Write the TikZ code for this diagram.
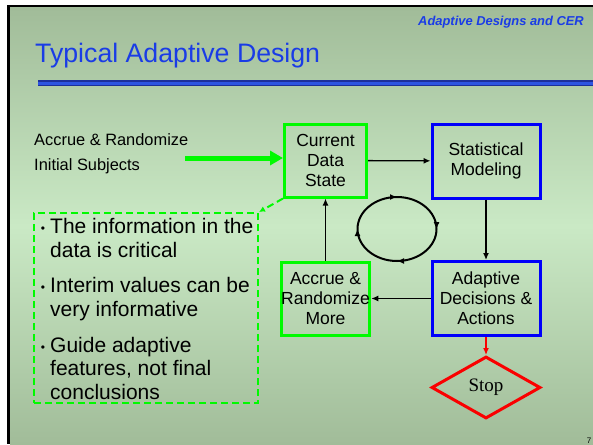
\documentclass[tikz,border=0pt]{standalone}
\usepackage{fontspec}
\setmainfont{Liberation Sans}
\newfontfamily\stopfont{Liberation Serif}
\usetikzlibrary{arrows.meta,shapes.geometric,decorations.markings}

\definecolor{slideedge}{RGB}{161,188,153}
\definecolor{slidemid}{RGB}{202,233,197}
\definecolor{titleblue}{RGB}{26,60,230}
\definecolor{rulemid}{RGB}{45,85,225}
\definecolor{ruleedge}{RGB}{28,48,155}
\definecolor{boxgreen}{RGB}{0,250,0}
\definecolor{boxblue}{RGB}{0,0,250}
\definecolor{stopred}{RGB}{250,0,0}

\tikzset{
  greenbox/.style={draw=boxgreen, line width=3pt, minimum width=82pt, minimum height=73pt,
    inner sep=0pt, align=center, font=\fontsize{17.5}{20}\selectfont},
  bluebox/.style={draw=boxblue, line width=3pt, minimum width=108pt, minimum height=74pt,
    inner sep=0pt, align=center, font=\fontsize{17.5}{20}\selectfont},
  stopdiamond/.style={diamond, draw=stopred, line width=3pt, minimum width=109pt,
    minimum height=62pt, inner sep=0pt, font=\stopfont\fontsize{19}{20}\selectfont},
  notebox/.style={draw=boxgreen, line width=2pt, dash pattern=on 7pt off 4pt,
    minimum width=224pt, minimum height=190pt},
  notetext/.style={anchor=base west, inner sep=0pt, align=left,
    font=\fontsize{21}{23.5}\selectfont},
  flow/.style={-{Latex[length=7pt,width=6pt]}, line width=1.3pt},
}
\newcommand{\notebullet}{\llap{\raisebox{1pt}{\fontsize{12}{12}\selectfont •}\hspace{5pt}}}

\begin{document}
\begin{tikzpicture}[x=1pt,y=-1pt]
  \useasboundingbox (0,0) rectangle (593,444);

% slide background and frame
  \fill[white] (0,0) rectangle (593,444);
  \fill[black] (7,5) rectangle (593,444);
  \shade[top color=slideedge, bottom color=slideedge, middle color=slidemid] (10,8) rectangle (593,444);

% header, title and rule
  \node[anchor=base east, inner sep=0pt, text=titleblue,
    font=\fontsize{12.9}{15}\selectfont\bfseries\itshape] (header) at (584,26) {Adaptive Designs and CER};
  \node[anchor=base west, inner sep=0pt, text=titleblue,
    font=\fontsize{26.7}{30}\selectfont] (title) at (35,63) {Typical Adaptive Design};
  \fill[ruleedge] (38,80) rectangle (593,86);
  \fill[rulemid]  (38,81.5) rectangle (593,84.5);

% the four steps of the loop
  \node[greenbox] (current) at (325.5,160.5) {Current\\Data\\State};
  \node[bluebox]  (model)   at (486,161)     {Statistical\\Modeling};
  \node[bluebox]  (decide)  at (486,298.5)   {Adaptive\\Decisions \&\\Actions};
  \node[greenbox] (accrue)  at (325.5,298.5) {Accrue \&\\Randomize\\More};
  \node[stopdiamond] (stop) at (486,387.5)   {Stop};

  \draw[flow] (current) -- (model);
  \draw[flow] (model) -- (decide);
  \draw[flow] (decide) -- (accrue);
  \draw[flow] (accrue) -- (current);
  \draw[flow, stopred] (decide) -- (stop);

% cycle sign in the middle
  \coordinate (loop) at (397,229);
  \draw[line width=2pt, postaction={decorate}, decoration={markings,
      mark=at position 0.001 with {\arrow{Latex[length=7pt,width=6pt]}},
      mark=at position 0.25 with {\arrow{Latex[length=7pt,width=6pt]}},
      mark=at position 0.5 with {\arrow{Latex[length=7pt,width=6pt]}},
      mark=at position 0.75 with {\arrow{Latex[length=7pt,width=6pt]}}}]
    (loop) circle[x radius=39.5, y radius=32];

% initial subjects feed in
  \node[anchor=base west, inner sep=0pt, align=left, font=\fontsize{16.4}{25}\selectfont]
    (initial) at (34,170) {Accrue \& Randomize\\Initial Subjects};
  \coordinate (feed) at (185,158);
  \draw[boxgreen, line width=5pt, -{Triangle[length=13pt,width=14pt]}] (feed) -- (feed -| current.west);

% notes on the data
  \node[notebox] (notes) at (146,308) {};
  \draw[boxgreen, line width=2pt, dash pattern=on 7pt off 4pt, -{Latex[length=6pt,width=6pt]}]
    (current.south west) -- (notes.north east);
  \node[notetext] (info)    at (50,257) {\notebullet The information in the\\data is critical};
  \node[notetext] (interim) at (50,316) {\notebullet Interim values can be\\very informative};
  \node[notetext] (guide)   at (50,399) {\notebullet Guide adaptive\\features, not final\\conclusions};

  \node[anchor=north, inner sep=0pt, font=\fontsize{8}{8}\selectfont] (pageno) at (589,438) {7};
\end{tikzpicture}
\end{document}
